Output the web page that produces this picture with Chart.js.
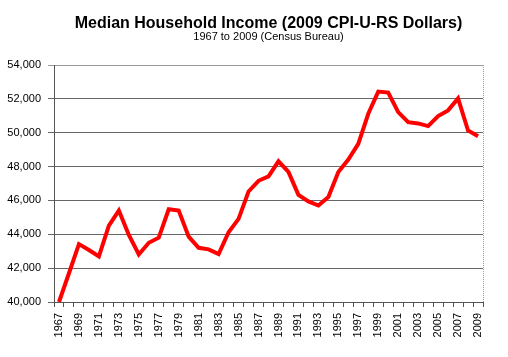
<!DOCTYPE html>
<html>
<head>
<meta charset="utf-8">
<script src="https://cdn.jsdelivr.net/npm/chart.js@4.4.1/dist/chart.umd.min.js"></script>
<style>
html,body{margin:0;padding:0;background:#fff;}
canvas{display:block;}
</style>
</head>
<body>
<canvas id="c" width="508" height="357"></canvas>
<script>
const titleText = "Median Household Income (2009 CPI-U-RS Dollars)";
const subtitleText = "1967 to 2009 (Census Bureau)";

const years = ["1967","1968","1969","1970","1971","1972","1973","1974","1975","1976",
  "1977","1978","1979","1980","1981","1982","1983","1984","1985","1986",
  "1987","1988","1989","1990","1991","1992","1993","1994","1995","1996",
  "1997","1998","1999","2000","2001","2002","2003","2004","2005","2006",
  "2007","2008","2009"];

const income = [40000,41700,43420,43070,42690,44510,45400,43960,42810,43500,
  43800,45480,45400,43860,43200,43110,42830,44120,44910,46530,
  47160,47420,48310,47680,46330,45940,45700,46200,47680,48410,
  49340,51120,52430,52370,51220,50620,50550,50390,50980,51320,
  52030,50130,49790];

const yMin = 40000, yMax = 54000, yStep = 2000;

const FONT = "'Liberation Sans', Arial, sans-serif";

const titlePlugin = {
  id: 'excelTitle',
  afterDraw(chart) {
    const ctx = chart.ctx, a = chart.chartArea;
    const cx = (a.left + a.right) / 2;
    ctx.save();
    ctx.fillStyle = '#000';
    ctx.textAlign = 'center';
    ctx.textBaseline = 'alphabetic';
    ctx.font = "bold 16px " + FONT;
    ctx.fillText(titleText, cx, 28);
    ctx.font = "11px " + FONT;
    ctx.fillText(subtitleText, cx, 40);
    // right border of plot area
    ctx.strokeStyle = '#999';
    ctx.lineWidth = 1;
    ctx.setLineDash([1, 1]);
    ctx.beginPath();
    ctx.moveTo(Math.round(a.right) + 0.5, a.top);
    ctx.lineTo(Math.round(a.right) + 0.5, a.bottom);
    ctx.stroke();
    ctx.restore();
  }
};

new Chart(document.getElementById('c'), {
  type: 'line',
  data: {
    labels: years,
    datasets: [{
      data: income,
      borderColor: '#ff0000',
      backgroundColor: '#ff0000',
      borderWidth: 4,
      pointRadius: 0,
      tension: 0,
      fill: false
    }]
  },
  options: {
    responsive: false,
    animation: false,
    devicePixelRatio: 1,
    layout: { padding: { top: 65, right: 25, bottom: 0, left: 0 } },
    plugins: { legend: { display: false }, tooltip: { enabled: false }, title: { display: false } },
    scales: {
      x: {
        type: 'category',
        offset: true,
        afterFit(s) { s.height = 55; },
        grid: { offset: true, drawOnChartArea: false, drawTicks: true, tickLength: 5, color: '#555' },
        border: { color: '#555', width: 1 },
        ticks: {
          autoSkip: false,
          minRotation: 90,
          maxRotation: 90,
          padding: 6,
          color: '#000',
          font: { family: FONT, size: 11 },
          callback(v, i) { return i % 2 === 0 ? this.getLabelForValue(v) : ''; }
        }
      },
      y: {
        min: yMin,
        max: yMax,
        afterFit(s) { s.width = 54; },
        grid: {
          color(ctx) { return ctx.tick && ctx.tick.value === yMax ? '#999' : '#666'; },
          tickLength: 6,
          drawTicks: true
        },
        border: { color: '#555', width: 1 },
        ticks: {
          stepSize: yStep,
          padding: 7,
          color: '#000',
          font: { family: FONT, size: 11 },
          callback(v) { return Number(v).toLocaleString('en-US'); }
        }
      }
    }
  },
  plugins: [titlePlugin]
});
</script>
</body>
</html>
